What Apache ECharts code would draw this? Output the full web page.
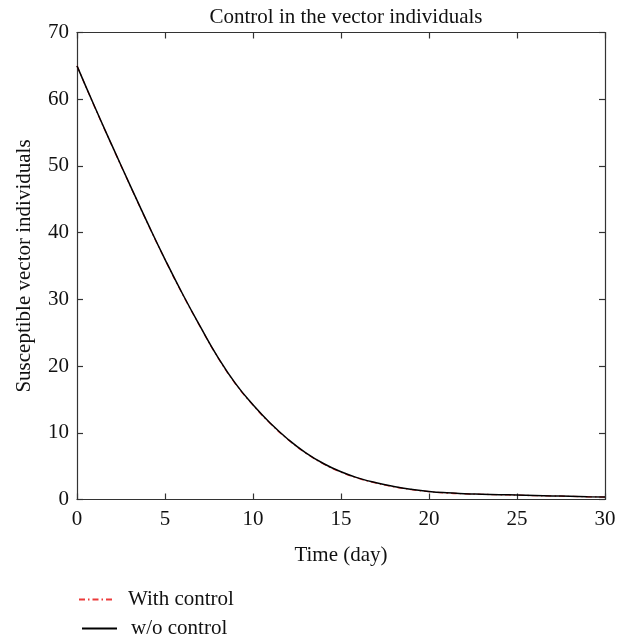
<!DOCTYPE html>
<html>
<head>
<meta charset="utf-8">
<script src="https://cdn.jsdelivr.net/npm/echarts@6/dist/echarts.min.js"></script>
<style>
html,body{margin:0;padding:0;background:#fff;}
#chart{width:627px;height:638px;}
</style>
</head>
<body>
<div id="chart"></div>
<script>
var titleText = 'Control in the vector individuals';
var xName = 'Time (day)';
var yName = 'Susceptible vector individuals';
var seriesNames = ['With control', 'w/o control'];
var days = [0,1,2,3,4,5,6,7,8,9,10,11,12,13,14,15,16,17,18,19,20,21,22,23,24,25,26,27,28,29,30];
var withControl = [65,58.85,52.95,47.15,41.45,35.95,30.75,25.9,21.3,17.35,14.15,11.35,8.95,6.95,5.35,4.1,3.15,2.45,1.9,1.48,1.17,0.97,0.86,0.78,0.71,0.65,0.58,0.53,0.47,0.41,0.36];
var withoutControl = [65,58.9,53.0,47.2,41.5,36.0,30.8,25.95,21.35,17.4,14.2,11.4,9.0,7.0,5.4,4.15,3.2,2.5,1.95,1.52,1.2,1.0,0.88,0.8,0.73,0.67,0.6,0.54,0.48,0.42,0.37];

function pairs(xs, ys){ return xs.map(function(x,i){ return [x, ys[i]]; }); }

var font = 'Liberation Serif';
var fs = 21;
var axisColor = '#333';
var chart = echarts.init(document.getElementById('chart'));
var baseAxis = {
  type: 'value',
  axisLine: {show: true, onZero: false, lineStyle: {color: axisColor, width: 1.2}},
  axisTick: {show: true, inside: true, length: 6, lineStyle: {color: axisColor, width: 1.2}},
  splitLine: {show: false}
};
var legendBase = {
  orient: 'vertical', padding: 0, itemWidth: 35, itemHeight: 14,
  itemStyle: {opacity: 0},
  textStyle: {fontFamily: font, fontSize: fs, color: '#111', padding: [0,0,0,9]}
};
chart.setOption({
  animation: false,
  title: {
    text: titleText, left: 341, top: 2, textAlign: 'center',
    textStyle: {fontFamily: font, fontSize: fs, fontWeight: 'normal', color: '#111'}
  },
  grid: {left: 77, right: 22, top: 32.5, bottom: 138.5},
  legend: [
    Object.assign({}, legendBase, {left: 78, top: 589, data: [seriesNames[0]]}),
    Object.assign({}, legendBase, {left: 81, top: 618, data: [seriesNames[1]]})
  ],
  xAxis: [
    Object.assign({}, baseAxis, {
      position: 'bottom', min: 0, max: 30, interval: 5,
      name: xName, nameLocation: 'middle', nameGap: 45,
      nameTextStyle: {fontFamily: font, fontSize: fs, color: '#111'},
      axisLabel: {fontFamily: font, fontSize: fs, color: '#111', margin: 9}
    }),
    Object.assign({}, baseAxis, {
      position: 'top', min: 0, max: 30, interval: 5, axisLabel: {show: false}
    })
  ],
  yAxis: [
    Object.assign({}, baseAxis, {
      position: 'left', min: 0, max: 70, interval: 10,
      name: yName, nameLocation: 'middle', nameGap: 42,
      nameTextStyle: {fontFamily: font, fontSize: fs, color: '#111'},
      axisLabel: {fontFamily: font, fontSize: fs, color: '#111', margin: 8}
    }),
    Object.assign({}, baseAxis, {
      position: 'right', min: 0, max: 70, interval: 10, axisLabel: {show: false}
    })
  ],
  series: [
    {
      name: seriesNames[0], type: 'line', smooth: true, showSymbol: false, symbol: 'none',
      data: pairs(days, withControl),
      itemStyle: {color: '#e8262b'},
      lineStyle: {color: '#ec3a3a', width: 1.3, type: [6,3,1.5,3]}
    },
    {
      name: seriesNames[1], type: 'line', smooth: true, showSymbol: false, symbol: 'none',
      data: pairs(days, withoutControl),
      itemStyle: {color: '#000'},
      lineStyle: {color: '#000', width: 1.5}
    }
  ]
});
</script>
</body>
</html>
